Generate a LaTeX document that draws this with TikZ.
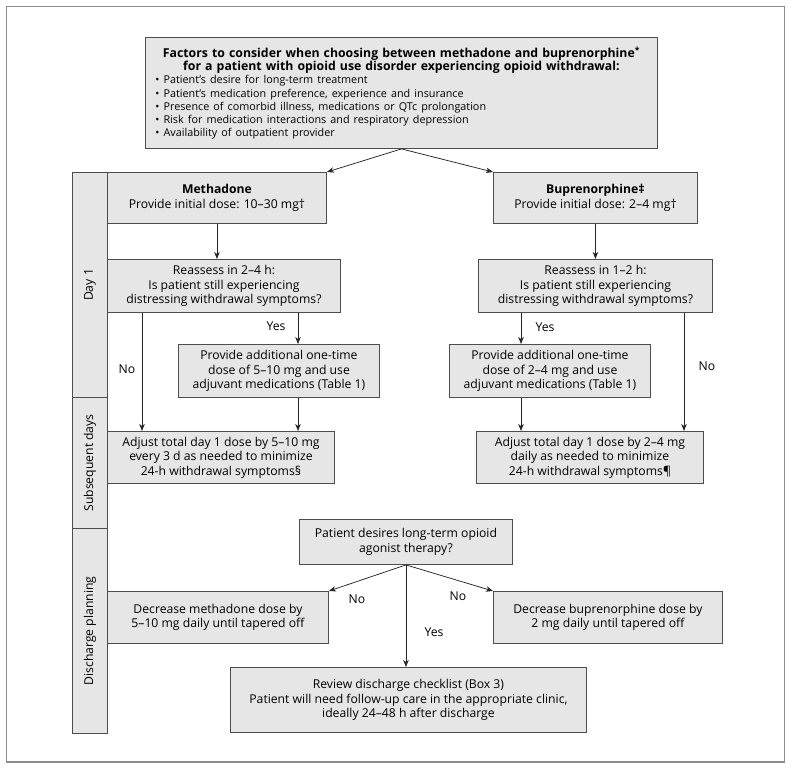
\documentclass[tikz,border=0pt]{standalone}
\usepackage{fontspec}
\setmainfont{Open Sans}
\usetikzlibrary{arrows.meta}
\definecolor{boxfill}{HTML}{E6E6E6}
\definecolor{boxline}{HTML}{4D4D4D}
\definecolor{frameline}{HTML}{8C8C8C}
\definecolor{arrline}{HTML}{262626}
\begin{document}
\begin{tikzpicture}[x=1pt,y=-1pt,
  box/.style={draw=boxline, fill=boxfill, line width=0.9pt, align=center, inner sep=0pt,
    anchor=north west, font=\fontsize{12.2}{14.6}\selectfont},
  sidebox/.style={draw=boxline, fill=boxfill, line width=0.9pt, inner sep=0pt, anchor=north west},
  sidelbl/.style={rotate=90, inner sep=0pt, font=\fontsize{12.2}{14.6}\selectfont},
  lbl/.style={inner sep=0pt, font=\fontsize{12.2}{14.6}\selectfont},
  arr/.style={draw=arrline, line width=0.75pt, -{Stealth[length=7pt,width=5.5pt,inset=2pt]}}
]
\useasboundingbox (0,0) rectangle (791,769);
\draw[frameline, line width=1.3pt] (6.5,6.5) rectangle (784.5,762);

% side bar
\node[sidebox, minimum width=35, minimum height=225] (d1) at (72,172) {};
\node[sidebox, minimum width=35, minimum height=131] (d2) at (72,397) {};
\node[sidebox, minimum width=35, minimum height=205] (d3) at (72,528) {};
\node[sidelbl] (d1t) at (d1.center) {Day 1};
\node[sidelbl] (d2t) at (d2.center) {Subsequent days};
\node[sidelbl] (d3t) at (d3.center) {Discharge planning};

% top box
\node[box, minimum width=512, minimum height=111, text width=492, align=left] (top) at (145,37) {%
{\centering\bfseries\fontsize{12.3}{13.3}\selectfont Factors to consider when choosing between methadone and buprenorphine\textsuperscript{*}\\
for a patient with opioid use disorder experiencing opioid withdrawal:\par}
{\raggedright\fontsize{10.8}{13.2}\selectfont
• Patient’s desire for long-term treatment\\
• Patient’s medication preference, experience and insurance\\
• Presence of comorbid illness, medications or QTc prolongation\\
• Risk for medication interactions and respiratory depression\\
• Availability of outpatient provider\par}};

% day 1
\node[box, minimum width=219, minimum height=51] (meth) at (107,172) {\textbf{Methadone}\\Provide initial dose: 10–30 mg†};
\node[box, minimum width=204, minimum height=51] (bup) at (493,172) {\textbf{Buprenorphine‡}\\Provide initial dose: 2–4 mg†};
\node[box, minimum width=233, minimum height=53] (reL) at (107,259) {Reassess in 2–4 h:\\Is patient still experiencing\\distressing withdrawal symptoms?};
\node[box, minimum width=234, minimum height=53] (reR) at (478,259) {Reassess in 1–2 h:\\Is patient still experiencing\\distressing withdrawal symptoms?};
\node[box, minimum width=201, minimum height=53] (provL) at (178,344) {Provide additional one-time\\dose of 5–10 mg and use\\adjuvant medications (Table 1)};
\node[box, minimum width=201, minimum height=53] (provR) at (449,344) {Provide additional one-time\\dose of 2–4 mg and use\\adjuvant medications (Table 1)};

% subsequent days
\node[box, minimum width=227, minimum height=52] (adjL) at (107,431) {Adjust total day 1 dose by 5–10 mg\\every 3 d as needed to minimize\\24-h withdrawal symptoms§};
\node[box, minimum width=227, minimum height=52] (adjR) at (476,431) {Adjust total day 1 dose by 2–4 mg\\daily as needed to minimize\\24-h withdrawal symptoms¶};

% discharge planning
\node[box, minimum width=213, minimum height=45] (pat) at (299,519) {Patient desires long-term opioid\\agonist therapy?};
\node[box, minimum width=221, minimum height=52] (decL) at (107,591) {Decrease methadone dose by\\5–10 mg daily until tapered off};
\node[box, minimum width=229, minimum height=52] (decR) at (493,591) {Decrease buprenorphine dose by\\2 mg daily until tapered off};
\node[box, minimum width=356, minimum height=65] (rev) at (230,667) {Review discharge checklist (Box 3)\\Patient will need follow-up care in the appropriate clinic,\\ideally 24–48 h after discharge};

% helper x positions
\coordinate (xnl) at (142,0);
\coordinate (xyl) at (298,0);
\coordinate (xyr) at (521,0);
\coordinate (xnr) at (684,0);

% arrows
\draw[arr] (top.south) -- (meth.north east);
\draw[arr] (top.south) -- (bup.north west);
\draw[arr] (meth.south) -- (reL.north -| meth.south);
\draw[arr] (bup.south) -- (reR.north -| bup.south);
\draw[arr] (reL.south -| xnl) -- (adjL.north -| xnl);
\draw[arr] (reL.south -| xyl) -- (provL.north -| xyl);
\draw[arr] (provL.south -| xyl) -- (adjL.north -| xyl);
\draw[arr] (reR.south -| xyr) -- (provR.north -| xyr);
\draw[arr] (provR.south -| xyr) -- (adjR.north -| xyr);
\draw[arr] (reR.south -| xnr) -- (adjR.north -| xnr);
\draw[arr] (pat.south) -- (decL.north east);
\draw[arr] (pat.south) -- (decR.north west);
\draw[arr] (pat.south) -- (rev.north -| pat.south);

% labels
\node[lbl] (l1) at (127,369) {No};
\node[lbl] (l2) at (276,326) {Yes};
\node[lbl] (l3) at (545,327) {Yes};
\node[lbl] (l4) at (707,366) {No};
\node[lbl] (l5) at (357,599) {No};
\node[lbl] (l6) at (458,596) {No};
\node[lbl] (l7) at (434,632) {Yes};
\end{tikzpicture}
\end{document}
